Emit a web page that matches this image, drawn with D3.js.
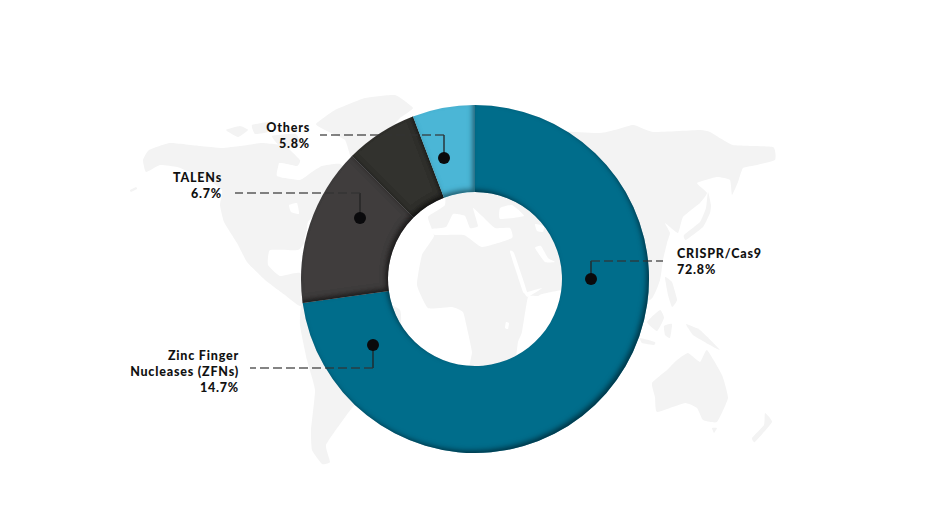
<!DOCTYPE html>
<html><head><meta charset="utf-8">
<script src="https://cdn.jsdelivr.net/npm/d3@7"></script>
<style>html,body{margin:0;padding:0;background:#fff;overflow:hidden}svg{display:block}</style>
</head><body><svg id="c" width="925" height="521"></svg>
<script>
const categories = ["CRISPR/Cas9","Zinc Finger Nucleases (ZFNs)","TALENs","Others"];
const sliceValues = [72.8,14.7,6.7,5.8];
const sliceColors = ["#016d8b","#3f3d3e","#33312e","#4cb6d6"];
const labelLines = [["CRISPR/Cas9","72.8%"],["Zinc Finger","Nucleases (ZFNs)","14.7%"],["TALENs","6.7%"],["Others","5.8%"]];

// backdrop world map (decorative silhouette)
const land = [
 [[143,160],[149,150],[170,143],[200,146],[222,148],[240,146],[262,143],[285,146],[300,160],[297,166],[280,163],[277,176],[300,180],[312,172],[322,166],[340,164],[356,178],[345,192],[325,205],[308,222],[306,240],[298,250],[270,250],[268,265],[280,276],[300,273],[320,300],[300,306],[285,295],[265,280],[247,262],[237,243],[224,222],[220,205],[222,190],[205,178],[190,172],[177,167],[160,165],[146,172]],
 [[316,124],[335,110],[365,98],[395,95],[413,108],[400,118],[385,135],[365,155],[352,160],[345,140],[325,130]],
 [[226,130],[240,126],[248,130],[238,137]],
 [[252,125],[270,122],[268,132],[255,134]],
 [[272,136],[296,134],[300,146],[280,146]],
 [[303,300],[340,290],[400,310],[395,380],[355,405],[343,420],[326,445],[330,462],[322,464],[312,450],[311,430],[315,390],[307,360],[300,325]],
 [[417,285],[422,255],[434,236],[428,217],[445,205],[448,180],[500,130],[600,133],[633,125],[653,132],[700,130],[710,132],[733,145],[773,147],[775,160],[757,165],[743,168],[738,182],[732,195],[730,180],[717,177],[697,183],[707,193],[700,203],[683,217],[678,233],[665,223],[670,233],[667,243],[663,260],[660,280],[650,300],[600,300],[565,290],[542,294],[538,296],[528,297],[522,332],[518,342],[514,370],[500,390],[470,370],[472,352],[467,328],[463,312],[452,307],[428,308]],
 [[708,192],[711,205],[710,213],[703,227],[686,240],[684,235],[700,222],[706,208]],
 [[665,277],[672,282],[677,300],[672,307],[668,295]],
 [[660,310],[664,318],[657,331],[647,322]],
 [[664,326],[672,324],[670,338],[665,335]],
 [[640,338],[655,342],[654,345],[642,343]],
 [[686,324],[700,330],[720,350],[708,344],[693,335]],
 [[652,383],[667,370],[677,360],[688,353],[700,362],[707,350],[722,375],[728,398],[717,422],[703,420],[697,408],[685,403],[657,412],[655,397]],
 [[712,428],[717,428],[714,433]],
 [[765,413],[772,422],[755,442],[752,438],[764,425]],
 [[130,190],[136,187],[137,189],[131,192]]
];
const water = [
 [[279,163],[297,167],[300,178],[280,177]],
 [[435,235],[432,229],[446,227],[453,214],[465,216],[470,228],[478,226],[473,208],[482,216],[495,228],[510,228],[512,238],[482,247],[464,235]],
 [[500,208],[512,205],[524,216],[500,219]],
 [[535,224],[544,226],[543,232],[537,231]],
 [[510,252],[514,253],[527,292],[523,292]],
 [[525,293],[542,288],[528,297]],
 [[535,248],[541,246],[548,258],[555,262],[545,262]],
 [[506,322],[509,323],[508,329],[505,328]],
 [[304,240],[310,222],[316,225],[308,244]],
 [[289,205],[297,203],[299,214],[291,212]]
];
// annotation anchors: dot, elbow, dashed end
const dots = [[591,279],[373,345],[360,218],[444,158]];
const elbowY = [261,368,193,135];
const dashEndX = [663,250,235,320];
const labelAnchors = [[677,258,"start"],[239,360,"end"],[222,182,"end"],[310,132,"end"]];

const svg = d3.select("#c");
const defs = svg.append("defs");
const f = defs.append("filter").attr("id","inset").attr("x","-10%").attr("y","-10%").attr("width","120%").attr("height","120%");
f.append("feComponentTransfer").attr("in","SourceAlpha").attr("result","inv")
 .append("feFuncA").attr("type","table").attr("tableValues","1 0");
f.append("feOffset").attr("in","inv").attr("dx",-3).attr("dy",-3).attr("result","off");
f.append("feGaussianBlur").attr("in","off").attr("stdDeviation",2.4).attr("result","blur");
f.append("feFlood").attr("flood-color","#000").attr("flood-opacity",0.75).attr("result","col");
f.append("feComposite").attr("in","col").attr("in2","blur").attr("operator","in").attr("result","sh");
f.append("feComposite").attr("in","sh").attr("in2","SourceAlpha").attr("operator","in").attr("result","shc");
const m = f.append("feMerge");
m.append("feMergeNode").attr("in","SourceGraphic");
m.append("feMergeNode").attr("in","shc");

const shape = d3.line().curve(d3.curveCardinalClosed.tension(0.6));
svg.append("g").selectAll("path").data(land).join("path").attr("d",shape).attr("fill","#f3f3f3");
svg.append("g").selectAll("path").data(water).join("path").attr("d",shape).attr("fill","#fff");

const cx=475, cy=279, R=174, r=87;
const pie = d3.pie().sort(null).value(d=>d)(sliceValues);
const arc = d3.arc().innerRadius(r).outerRadius(R);
svg.append("g").attr("transform",`translate(${cx},${cy})`)
 .selectAll("path").data(pie).join("path")
 .attr("d",arc).attr("fill",(d,i)=>sliceColors[i]).attr("filter","url(#inset)");

const g = svg.append("g");
categories.forEach((c,i)=>{
  const [x,y]=dots[i];
  g.append("path").attr("d",d3.line()([[x,y],[x,elbowY[i]]])).attr("stroke","#222").attr("stroke-width",1.3).attr("fill","none");
  g.append("path").attr("d",d3.line()([[x,elbowY[i]],[dashEndX[i],elbowY[i]]]))
   .attr("stroke","#333").attr("stroke-opacity",0.8).attr("stroke-width",1.5).attr("stroke-dasharray","9 4").attr("fill","none");
  g.append("circle").attr("cx",x).attr("cy",y).attr("r",6).attr("fill","#0a0a0c");
  const [tx,ty,anc]=labelAnchors[i];
  g.append("text").attr("text-anchor",anc).attr("font-family","Lato, 'Open Sans', sans-serif")
   .attr("font-weight",900).attr("font-size",12.5).attr("letter-spacing",0.8).attr("fill","#111")
   .selectAll("tspan").data(labelLines[i]).join("tspan")
   .attr("x",tx).attr("y",(d,k)=>ty+k*16).text(d=>d);
});
</script></body></html>
